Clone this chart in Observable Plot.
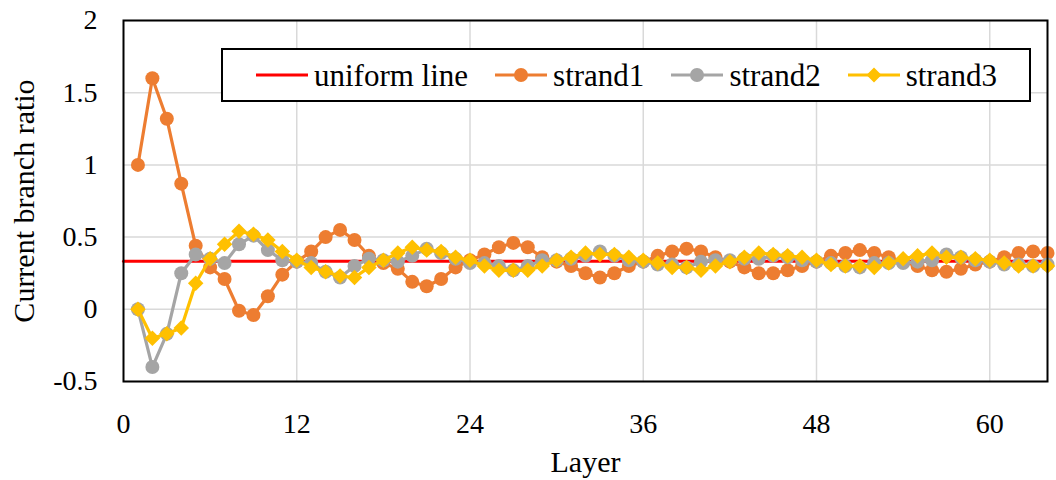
<!DOCTYPE html>
<html>
<head>
<meta charset="utf-8">
<script src="https://cdn.jsdelivr.net/npm/d3@7"></script>
<script src="https://cdn.jsdelivr.net/npm/@observablehq/plot@0.6"></script>
<style>
  body { margin: 0; background: #fff; }
  #wrap { position: relative; width: 1056px; height: 480px; font-family: "Liberation Serif", "Times New Roman", serif; color: #000; }
  #legend { position: absolute; left: 221px; top: 48px; width: 810px; height: 54px; box-sizing: border-box;
            border: 2px solid #000; background: #fff; display: flex; align-items: center; padding-left: 33px; }
  .item { display: flex; align-items: center; margin-right: 27px; font-size: 31px; line-height: 1; }
  .item svg { margin-right: 6px; display: block; }
</style>
</head>
<body>
<div id="wrap"><div id="legend"></div></div>
<script>
// ---- data ----
const layers = [1,2,3,4,5,6,7,8,9,10,11,12,13,14,15,16,17,18,19,20,21,22,23,24,25,26,27,28,29,30,31,32,
  33,34,35,36,37,38,39,40,41,42,43,44,45,46,47,48,49,50,51,52,53,54,55,56,57,58,59,60,61,62,63,64];

const uniformX = [0, 64];
const uniformY = [0.3333, 0.3333];

const strand1 = [1.00, 1.60, 1.32, 0.87, 0.44, 0.29, 0.21, -0.01, -0.04, 0.09, 0.24, 0.33,
  0.40, 0.50, 0.55, 0.48, 0.37, 0.32, 0.28, 0.19, 0.16, 0.21, 0.29, 0.34,
  0.38, 0.43, 0.46, 0.43, 0.36, 0.33, 0.30, 0.25, 0.22, 0.25, 0.30, 0.33, 0.37,
  0.40, 0.42, 0.40, 0.36, 0.33, 0.29, 0.25, 0.25, 0.27, 0.30, 0.33, 0.37, 0.39, 0.41,
  0.39, 0.36, 0.33, 0.30, 0.27, 0.26, 0.28, 0.31, 0.33, 0.36, 0.39, 0.40, 0.39];

const strand2 = [0.00, -0.40, -0.17, 0.25, 0.38, 0.35, 0.32, 0.45, 0.51, 0.41, 0.34, 0.33,
  0.32, 0.26, 0.22, 0.30, 0.35, 0.34, 0.33, 0.37, 0.42, 0.39, 0.35, 0.32,
  0.32, 0.30, 0.27, 0.30, 0.34, 0.34, 0.35, 0.37, 0.40, 0.37, 0.34, 0.33, 0.31,
  0.31, 0.29, 0.33, 0.34, 0.34, 0.35, 0.35, 0.37, 0.36, 0.34, 0.33, 0.32, 0.30, 0.29,
  0.32, 0.32, 0.32, 0.33, 0.34, 0.38, 0.36, 0.34, 0.33, 0.31, 0.31, 0.30, 0.31];

const strand3 = [0.00, -0.20, -0.17, -0.13, 0.18, 0.35, 0.45, 0.54, 0.52, 0.48, 0.40, 0.34,
  0.29, 0.26, 0.23, 0.22, 0.29, 0.34, 0.39, 0.43, 0.41, 0.40, 0.36, 0.34,
  0.30, 0.27, 0.27, 0.27, 0.30, 0.34, 0.36, 0.39, 0.38, 0.38, 0.36, 0.34, 0.32,
  0.29, 0.29, 0.27, 0.30, 0.33, 0.36, 0.39, 0.38, 0.37, 0.36, 0.34, 0.31, 0.30, 0.30,
  0.29, 0.32, 0.35, 0.37, 0.39, 0.36, 0.36, 0.35, 0.34, 0.32, 0.30, 0.30, 0.30];

const xTicks = [0, 12, 24, 36, 48, 60];
const yTicks = [-0.5, 0, 0.5, 1, 1.5, 2];
const seriesNames = ["uniform line", "strand1", "strand2", "strand3"];
const seriesColors = ["#FF0000", "#ED7D31", "#A5A5A5", "#FFC000"];
const xLabel = "Layer";
const yLabel = "Current branch ratio";

// ---- chart ----
const gridStyle = {stroke: "#d9d9d9", strokeOpacity: 1, strokeWidth: 1.5};
const series = [strand1, strand2, strand3];
const symbols = ["circle", "circle", "diamond2"];

const marks = [
  Plot.gridY(yTicks, gridStyle),
  Plot.gridX(xTicks.filter(d => d > 0), gridStyle),
  Plot.line(uniformX, {x: d => d, y: (d, i) => uniformY[i], stroke: seriesColors[0], strokeWidth: 3})
];
series.forEach((s, k) => {
  marks.push(Plot.line(layers, {x: d => d, y: (d, i) => s[i], stroke: seriesColors[k + 1], strokeWidth: 3.2}));
  marks.push(Plot.dot(layers, {x: d => d, y: (d, i) => s[i], fill: seriesColors[k + 1], stroke: "none",
    symbol: symbols[k], r: 7}));
});
marks.push(
  Plot.frame({stroke: "#000", strokeWidth: 2}),
  Plot.axisX(xTicks, {tickSize: 0, tickPadding: 32, tickFormat: d => String(d), label: null, fontSize: 28}),
  Plot.axisY(yTicks, {tickSize: 0, tickPadding: 26, tickFormat: d => String(d), label: null, fontSize: 28}),
  Plot.text([xLabel], {text: d => d, frameAnchor: "bottom", dy: 90, lineAnchor: "bottom", fontSize: 30}),
  Plot.text([yLabel], {text: d => d, frameAnchor: "left", textAnchor: "middle", dx: -90, rotate: -90, lineAnchor: "bottom", fontSize: 30})
);

const chart = Plot.plot({
  width: 1056,
  height: 480,
  marginLeft: 123,
  marginRight: 9,
  marginTop: 20,
  marginBottom: 99,
  x: {domain: [0, 64]},
  y: {domain: [-0.5, 2]},
  style: {fontFamily: "'Liberation Serif', 'Times New Roman', serif", fontSize: "28px", background: "#fff", color: "#000", overflow: "visible"},
  marks
});
document.getElementById("wrap").prepend(chart);

// ---- legend ----
const legend = document.getElementById("legend");
seriesNames.forEach((name, k) => {
  const c = seriesColors[k];
  let marker = "";
  if (k === 1 || k === 2) marker = `<circle cx="26" cy="12" r="7" fill="${c}"/>`;
  if (k === 3) marker = `<path d="M26,4.5L33.5,12L26,19.5L18.5,12Z" fill="${c}"/>`;
  const item = document.createElement("div");
  item.className = "item";
  item.innerHTML = `<svg width="52" height="24"><line x1="0" y1="12" x2="52" y2="12" stroke="${c}" stroke-width="3"/>${marker}</svg><span>${name}</span>`;
  legend.appendChild(item);
});
</script>
</body>
</html>
